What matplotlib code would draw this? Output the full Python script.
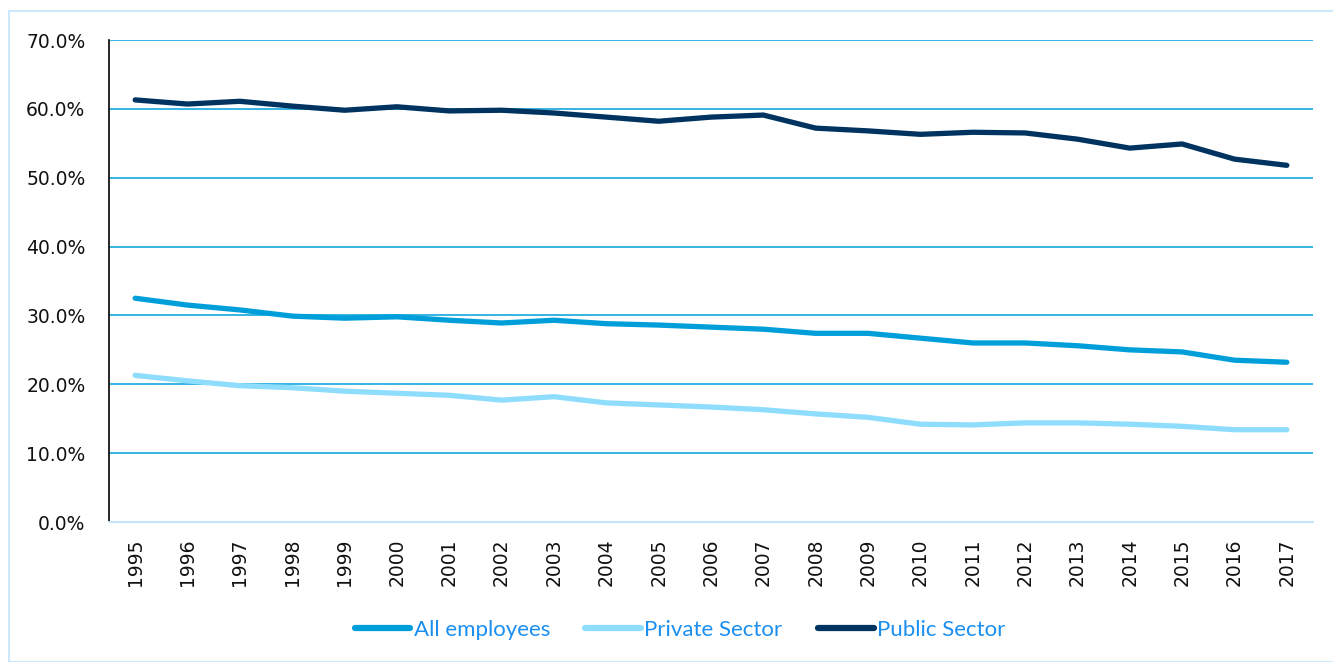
import matplotlib
matplotlib.use("Agg")
import matplotlib.pyplot as plt
from matplotlib.patches import Rectangle
from matplotlib.ticker import FuncFormatter, MultipleLocator

years = [str(y) for y in range(1995, 2018)]
all_employees = [32.5, 31.5, 30.8, 29.9, 29.6, 29.8, 29.3, 28.9, 29.3, 28.8, 28.6, 28.3,
                 28.0, 27.4, 27.4, 26.7, 26.0, 26.0, 25.6, 25.0, 24.7, 23.5, 23.2]
private_sector = [21.3, 20.5, 19.8, 19.5, 19.0, 18.7, 18.4, 17.7, 18.2, 17.3, 17.0, 16.7,
                  16.3, 15.7, 15.2, 14.2, 14.1, 14.4, 14.4, 14.2, 13.9, 13.4, 13.4]
public_sector = [61.3, 60.7, 61.1, 60.4, 59.8, 60.3, 59.7, 59.8, 59.4, 58.8, 58.2, 58.8,
                 59.1, 57.2, 56.8, 56.3, 56.6, 56.5, 55.6, 54.3, 54.9, 52.7, 51.8]

c_all = "#009FDA"
c_priv = "#8FDDFC"
c_pub = "#00335F"

plt.rcParams["font.family"] = ["DejaVu Sans"]

fig = plt.figure(figsize=(13.33, 6.62), dpi=100)
ax = fig.add_axes([109/1333, 1-522/662, (1313-109)/1333, (522-40)/662])

x = list(range(len(years)))
lw = 3.8
ax.plot(x, all_employees, color=c_all, lw=lw, solid_capstyle="round", label="All employees", zorder=3)
ax.plot(x, private_sector, color=c_priv, lw=lw, solid_capstyle="round", label="Private Sector", zorder=3)
ax.plot(x, public_sector, color=c_pub, lw=lw, solid_capstyle="round", label="Public Sector", zorder=3)

ax.set_xlim(-0.5, len(years) - 0.5)
ax.set_ylim(0, 70)
ax.yaxis.set_major_locator(MultipleLocator(10))
ax.yaxis.set_major_formatter(FuncFormatter(lambda v, p: f"{v:.1f}%"))
ax.set_xticks(x)
ax.set_xticklabels(years, rotation=90)
ax.tick_params(axis="both", length=0, labelsize=13.5, colors="#111111")
ax.tick_params(axis="y", pad=17)
ax.tick_params(axis="x", pad=12)
ax.grid(axis="y", color=c_all, lw=1.1)
ax.set_axisbelow(True)
for s in ["top", "right"]:
    ax.spines[s].set_visible(False)
ax.spines["left"].set_color("#000000")
ax.spines["left"].set_linewidth(1.2)
ax.spines["bottom"].set_color("#C6E4F8")
ax.spines["bottom"].set_linewidth(1.5)

leg = fig.legend(loc="center", bbox_to_anchor=(680/1333, 1-630/662), ncol=3, frameon=False,
                 prop={"family": ["Lato", "DejaVu Sans"], "size": 16},
                 handlelength=2.5, handletextpad=0.15, columnspacing=1.6)
for t in leg.get_texts():
    t.set_color("#1A8FF0")
for h in leg.get_lines():
    h.set_linewidth(4.5)

fig.patches.append(Rectangle((9/1333, 0), 1.0, 1-11/662, transform=fig.transFigure,
                             fill=False, edgecolor="#CDE8FB", lw=1.5))

fig.savefig("out.png", dpi=100)
